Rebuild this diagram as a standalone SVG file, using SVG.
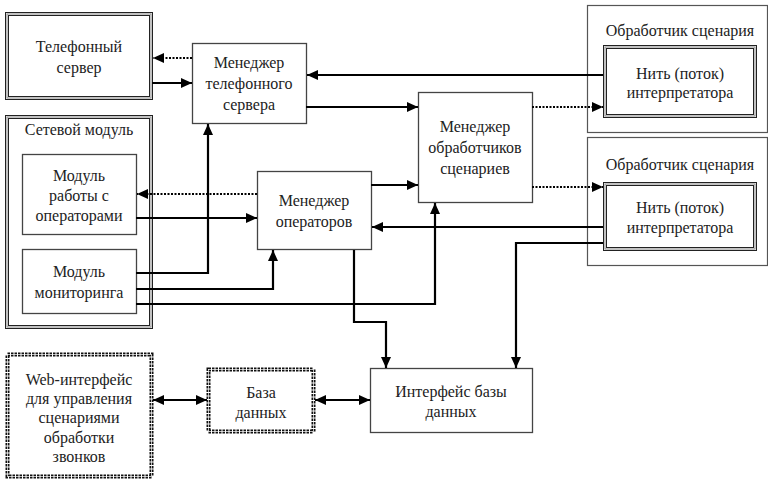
<svg xmlns="http://www.w3.org/2000/svg" width="768" height="480" viewBox="0 0 768 480" font-family="Times New Roman, Liberation Serif, serif" font-size="16">
<style>
.box{fill:#fff;stroke:#444;stroke-width:1.3}
.cont{fill:#fff;stroke:#555;stroke-width:1.2}
.dbl-o{fill:#fff;stroke:#222;stroke-width:1}
.dbl-m{fill:none;stroke:#999;stroke-width:1.2}
.dbl-i{fill:none;stroke:#222;stroke-width:1}
.dot-box{fill:#fff;stroke:#111;stroke-width:4;stroke-dasharray:2.5 1}
.dot-in{fill:none;stroke:#fff;stroke-width:0.7}
.ln{fill:none;stroke:#000;stroke-width:2.2}
.dt{fill:none;stroke:#000;stroke-width:2.2;stroke-dasharray:2 1.5}
.arr{marker-end:url(#ah)}
.darr{marker-start:url(#ahs);marker-end:url(#ah)}
</style>
<defs>
<marker id="ah" markerUnits="userSpaceOnUse" markerWidth="12" markerHeight="10" refX="11" refY="5" orient="auto">
<path d="M0,0 L11,5 L0,10 Z" fill="#000"/>
</marker>
<marker id="ahs" markerUnits="userSpaceOnUse" markerWidth="12" markerHeight="10" refX="0" refY="5" orient="auto">
<path d="M11,0 L0,5 L11,10 Z" fill="#000"/>
</marker>
</defs>

<g id="container1">
<rect class="cont" x="587.5" y="5.5" width="180" height="127"/>
<text x="680" y="36" font-family="Times New Roman, Liberation Serif, serif" text-anchor="middle" fill="#222">Обработчик сценария</text>
</g>
<g id="container2">
<rect class="cont" x="587.5" y="137.5" width="180" height="128"/>
<text x="680" y="170" font-family="Times New Roman, Liberation Serif, serif" text-anchor="middle" fill="#222">Обработчик сценария</text>
</g>

<g id="tel-server">
<rect class="dbl-o" x="5.5" y="12.5" width="147" height="87"/>
<rect class="dbl-m" x="7" y="14" width="144" height="84"/>
<rect class="dbl-i" x="8.5" y="15.5" width="141" height="81"/>
<text x="79" y="52" font-family="Times New Roman, Liberation Serif, serif" text-anchor="middle" fill="#222">Телефонный</text>
<text x="79" y="73" font-family="Times New Roman, Liberation Serif, serif" text-anchor="middle" fill="#222">сервер</text>
</g>

<g id="net-module">
<rect class="dbl-o" x="5.5" y="115.5" width="147" height="213"/>
<rect class="dbl-m" x="7" y="117" width="144" height="210"/>
<rect class="dbl-i" x="8.5" y="118.5" width="141" height="207"/>
<text x="79" y="135" font-family="Times New Roman, Liberation Serif, serif" text-anchor="middle" fill="#222">Сетевой модуль</text>
</g>

<g id="op-module">
<rect class="box" x="22.5" y="154.5" width="114" height="80"/>
<text x="79" y="181" font-family="Times New Roman, Liberation Serif, serif" text-anchor="middle" fill="#222">Модуль</text>
<text x="79" y="201" font-family="Times New Roman, Liberation Serif, serif" text-anchor="middle" fill="#222">работы с</text>
<text x="79" y="221" font-family="Times New Roman, Liberation Serif, serif" text-anchor="middle" fill="#222">операторами</text>
</g>

<g id="mon-module">
<rect class="box" x="22.5" y="249.5" width="114" height="64"/>
<text x="79" y="277" font-family="Times New Roman, Liberation Serif, serif" text-anchor="middle" fill="#222">Модуль</text>
<text x="79" y="298" font-family="Times New Roman, Liberation Serif, serif" text-anchor="middle" fill="#222">мониторинга</text>
</g>

<g id="tel-manager">
<rect class="box" x="192.5" y="43.5" width="114" height="80"/>
<text x="249" y="68" font-family="Times New Roman, Liberation Serif, serif" text-anchor="middle" fill="#222">Менеджер</text>
<text x="249" y="89" font-family="Times New Roman, Liberation Serif, serif" text-anchor="middle" fill="#222">телефонного</text>
<text x="249" y="110" font-family="Times New Roman, Liberation Serif, serif" text-anchor="middle" fill="#222">сервера</text>
</g>

<g id="op-manager">
<rect class="box" x="257.5" y="171.5" width="114" height="78"/>
<text x="314" y="206" font-family="Times New Roman, Liberation Serif, serif" text-anchor="middle" fill="#222">Менеджер</text>
<text x="314" y="227" font-family="Times New Roman, Liberation Serif, serif" text-anchor="middle" fill="#222">операторов</text>
</g>

<g id="scn-manager">
<rect class="box" x="418.5" y="92.5" width="114" height="110"/>
<text x="475" y="132" font-family="Times New Roman, Liberation Serif, serif" text-anchor="middle" fill="#222">Менеджер</text>
<text x="475" y="153" font-family="Times New Roman, Liberation Serif, serif" text-anchor="middle" fill="#222">обработчиков</text>
<text x="475" y="174" font-family="Times New Roman, Liberation Serif, serif" text-anchor="middle" fill="#222">сценариев</text>
</g>

<g id="thread1">
<rect class="dbl-o" x="603.5" y="45.5" width="153" height="72"/>
<rect class="dbl-m" x="605" y="47" width="150" height="69"/>
<rect class="dbl-i" x="606.5" y="48.5" width="147" height="66"/>
<text x="680" y="79" font-family="Times New Roman, Liberation Serif, serif" text-anchor="middle" fill="#222">Нить (поток)</text>
<text x="680" y="98" font-family="Times New Roman, Liberation Serif, serif" text-anchor="middle" fill="#222">интерпретатора</text>
</g>

<g id="thread2">
<rect class="dbl-o" x="603.5" y="182.5" width="153" height="68"/>
<rect class="dbl-m" x="605" y="184" width="150" height="65"/>
<rect class="dbl-i" x="606.5" y="185.5" width="147" height="62"/>
<text x="680" y="213" font-family="Times New Roman, Liberation Serif, serif" text-anchor="middle" fill="#222">Нить (поток)</text>
<text x="680" y="233" font-family="Times New Roman, Liberation Serif, serif" text-anchor="middle" fill="#222">интерпретатора</text>
</g>

<g id="web">
<rect class="dot-box" x="7.5" y="354.5" width="144" height="122"/>
<rect class="dot-in" x="7.5" y="354.5" width="144" height="122"/>
<text x="79" y="385" font-family="Times New Roman, Liberation Serif, serif" text-anchor="middle" fill="#222">Web-интерфейс</text>
<text x="79" y="404" font-family="Times New Roman, Liberation Serif, serif" text-anchor="middle" fill="#222">для управления</text>
<text x="79" y="423" font-family="Times New Roman, Liberation Serif, serif" text-anchor="middle" fill="#222">сценариями</text>
<text x="79" y="443" font-family="Times New Roman, Liberation Serif, serif" text-anchor="middle" fill="#222">обработки</text>
<text x="79" y="462" font-family="Times New Roman, Liberation Serif, serif" text-anchor="middle" fill="#222">звонков</text>
</g>

<g id="db">
<rect class="dot-box" x="208.5" y="369.5" width="105" height="62"/>
<rect class="dot-in" x="208.5" y="369.5" width="105" height="62"/>
<text x="261" y="398" font-family="Times New Roman, Liberation Serif, serif" text-anchor="middle" fill="#222">База</text>
<text x="261" y="418" font-family="Times New Roman, Liberation Serif, serif" text-anchor="middle" fill="#222">данных</text>
</g>

<g id="db-iface">
<rect class="box" x="370.5" y="368.5" width="162" height="64"/>
<text x="451" y="397" font-family="Times New Roman, Liberation Serif, serif" text-anchor="middle" fill="#222">Интерфейс базы</text>
<text x="451" y="417" font-family="Times New Roman, Liberation Serif, serif" text-anchor="middle" fill="#222">данных</text>
</g>

<g id="connectors">
<path class="dt arr" d="M192,58 H153"/>
<path class="ln arr" d="M152,83 H192"/>
<path class="ln arr" d="M603,75 H307"/>
<path class="ln arr" d="M306,107 H418"/>
<path class="dt arr" d="M532,107 H603"/>
<path class="ln arr" d="M371,185 H418"/>
<path class="dt arr" d="M532,187 H603"/>
<path class="dt arr" d="M257,194 H137"/>
<path class="ln arr" d="M136,218 H257"/>
<path class="ln arr" d="M603,227 H372"/>
<path class="ln arr" d="M603,243 H516 V368"/>
<path class="ln arr" d="M136,273 H208 V124"/>
<path class="ln arr" d="M136,289 H273 V250"/>
<path class="ln arr" d="M136,304 H435 V203"/>
<path class="ln arr" d="M354,250 V322 H386 V368"/>
<path class="ln darr" d="M153,400 H207"/>
<path class="ln darr" d="M315,400 H370"/>
</g>
</svg>
